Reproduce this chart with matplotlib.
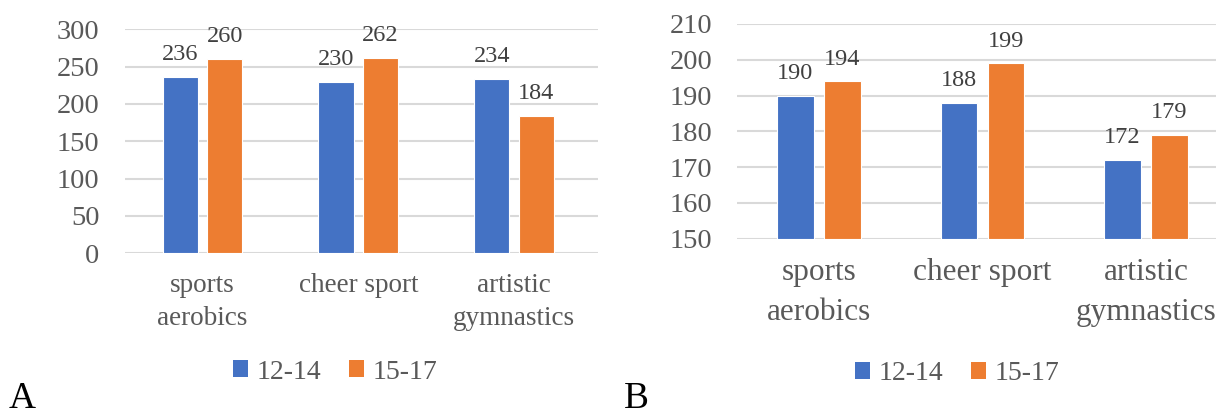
import matplotlib
matplotlib.use("Agg")
import matplotlib.pyplot as plt
import numpy as np
from matplotlib.patches import Patch

plt.rcParams["font.family"] = ["Liberation Serif", "DejaVu Serif"]

categories = ["sports\naerobics", "cheer sport", "artistic\ngymnastics"]
series_names = ["12-14", "15-17"]

a_12_14 = [236, 230, 234]
a_15_17 = [260, 262, 184]
a_yticks = [0, 50, 100, 150, 200, 250, 300]

b_12_14 = [190, 188, 172]
b_15_17 = [194, 199, 179]
b_yticks = [150, 160, 170, 180, 190, 200, 210]

BLUE = "#4472C4"
ORANGE = "#ED7D31"
GRID = "#D9D9D9"
TICK = "#595959"
LABEL = "#404040"

W, H = 1216, 415
fig = plt.figure(figsize=(W / 100, H / 100), dpi=100)


def px_axes(x0, x1, ytop, ybot):
    return fig.add_axes([x0 / W, 1 - ybot / H, (x1 - x0) / W, (ybot - ytop) / H])


def draw_panel(ax, s1, s2, yticks, width, offset, xright, tick_fs, cat_fs, lab_fs, linesp):
    x = np.arange(len(categories))
    base = yticks[0]
    b1 = ax.bar(x - offset, np.array(s1) - base, width, bottom=base, color=BLUE,
                edgecolor="white", linewidth=0.8, zorder=3)
    b2 = ax.bar(x + offset, np.array(s2) - base, width, bottom=base, color=ORANGE,
                edgecolor="white", linewidth=0.8, zorder=3)
    for bars, vals in ((b1, s1), (b2, s2)):
        for r, v in zip(bars, vals):
            ax.annotate(str(v), (r.get_x() + r.get_width() / 2, v),
                        xytext=(0, 12), textcoords="offset points",
                        ha="center", va="baseline", fontsize=lab_fs, color=LABEL)
    ax.set_xlim(-0.5, xright)
    ax.set_ylim(yticks[0], yticks[-1])
    ax.set_yticks(yticks)
    ax.set_yticklabels([str(t) for t in yticks], fontsize=tick_fs, color=TICK)
    ax.set_xticks(x)
    ax.set_xticklabels(categories, fontsize=cat_fs, color=TICK, linespacing=linesp)
    ax.tick_params(axis="both", length=0)
    ax.tick_params(axis="x", pad=14)
    ax.tick_params(axis="y", pad=18)
    ax.grid(axis="y", color=GRID, linewidth=1.5, zorder=0)
    ax.set_axisbelow(True)
    for s in ax.spines.values():
        s.set_visible(False)


axA = px_axes(124.6, 598, 29.3, 253.3)
draw_panel(axA, a_12_14, a_15_17, a_yticks, 0.225, 0.143, 2.5 + 6 / 155.75,
           20.5, 19.5, 17.5, 1.42)

axB = px_axes(737.25, 1227.75, 24, 238.7)
draw_panel(axB, b_12_14, b_15_17, b_yticks, 0.223, 0.144, 2.5,
           20.5, 22.5, 17.5, 1.5)

handles = [Patch(facecolor=BLUE, edgecolor="none"), Patch(facecolor=ORANGE, edgecolor="none")]
for cx, cy in ((335 / W, 1 - 372 / H), (957 / W, 1 - 374 / H)):
    leg = fig.legend(handles, series_names, loc="center", bbox_to_anchor=(cx, cy),
                     ncol=2, frameon=False, fontsize=20, handlelength=0.55, handleheight=0.55,
                     handletextpad=0.3, columnspacing=1.0)
    for t in leg.get_texts():
        t.set_color(TICK)

fig.text(9 / W, 1 - 408 / H, "A", fontsize=27, ha="left", va="baseline", color="black")
fig.text(624 / W, 1 - 408 / H, "B", fontsize=27, ha="left", va="baseline", color="black")

fig.savefig("out.png", dpi=100)
